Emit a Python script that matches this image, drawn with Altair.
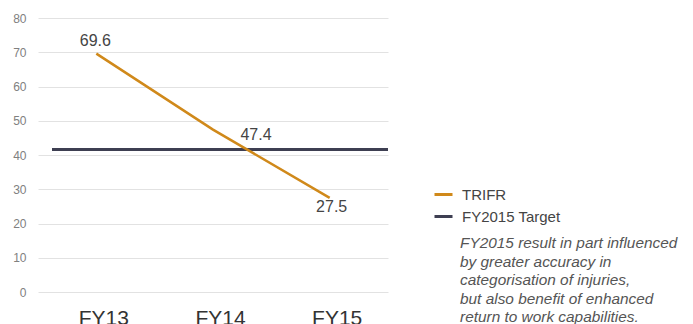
import altair as alt
import pandas as pd

# TRIFR by financial year, with the FY2015 target level
years = ["FY13", "FY14", "FY15"]
trifr = [69.6, 47.4, 27.5]
target_value = 41.6
series_names = ["TRIFR", "FY2015 Target"]
note_lines = [
    "FY2015 result in part influenced",
    "by greater accuracy in",
    "categorisation of injuries,",
    "but also benefit of enhanced",
    "return to work capabilities.",
]

ORANGE = "#D0891A"
NAVY = "#3E3F52"
FONT = "Liberation Sans"

trifr_df = pd.DataFrame({"year": years, "value": trifr, "series": series_names[0]})
target_df = pd.DataFrame({"value": [target_value], "series": [series_names[1]]})
note_df = pd.DataFrame({"note": [note_lines]})

color_scale = alt.Scale(domain=series_names, range=[ORANGE, NAVY])
x_scale = alt.Scale(type="point", padding=0.5)
y_scale = alt.Scale(domain=[0, 80], nice=False)

x_axis = alt.Axis(title=None, labelAngle=0, labelFontSize=21, labelColor="#333333",
                  labelPadding=15, labelOffset=7, ticks=False, domain=False, grid=False)
y_axis = alt.Axis(title=None, values=list(range(0, 90, 10)), labelFontSize=12,
                  labelColor="#808080", labelPadding=12, labelOverlap=False,
                  ticks=False, domain=False, grid=True, gridColor="#E2E2E2", gridWidth=1)


def x_enc():
    return alt.X("year:N", sort=years, scale=x_scale, axis=x_axis)


def y_enc():
    return alt.Y("value:Q", scale=y_scale, axis=y_axis)


line = alt.Chart(trifr_df).mark_line(strokeWidth=2.5).encode(
    x=x_enc(),
    y=y_enc(),
    color=alt.Color("series:N", scale=color_scale,
                    legend=alt.Legend(title=None, orient="none", legendX=395, legendY=166,
                                      symbolType="stroke", symbolSize=324,
                                      symbolStrokeWidth=3, labelFontSize=15,
                                      labelColor="#444444", labelOffset=8,
                                      rowPadding=3, padding=0)),
)

target = alt.Chart(target_df).mark_rule(strokeWidth=3).encode(
    y=y_enc(),
    x=alt.value(14),
    x2=alt.value(350),
    color=alt.Color("series:N", scale=color_scale),
)


def value_label(year, dx, dy):
    return alt.Chart(trifr_df).transform_filter(
        alt.datum.year == year
    ).mark_text(fontSize=16, color="#444444", dx=dx, dy=dy, baseline="middle").encode(
        x=x_enc(),
        y=y_enc(),
        text=alt.Text("value:Q", format=".1f"),
    )


labels = (
    value_label("FY13", -1, -13)
    + value_label("FY14", 43, 5)
    + value_label("FY15", 2, 9)
)

note = alt.Chart(note_df).mark_text(
    align="left", baseline="middle", fontSize=15.4, fontStyle="italic",
    color="#555555", lineHeight=18.5,
).encode(
    x=alt.value(422),
    y=alt.value(225),
    text="note",
)

chart = (
    alt.layer(target, line, labels, note)
    .properties(
        width=350,
        height=274,
        autosize=alt.AutoSizeParams(type="none"),
        padding={"left": 38, "top": 18, "right": 305, "bottom": 32},
    )
    .configure(font=FONT)
    .configure_view(stroke=None)
)

chart.save("out.html", embed_options={"renderer": "svg", "actions": False})
